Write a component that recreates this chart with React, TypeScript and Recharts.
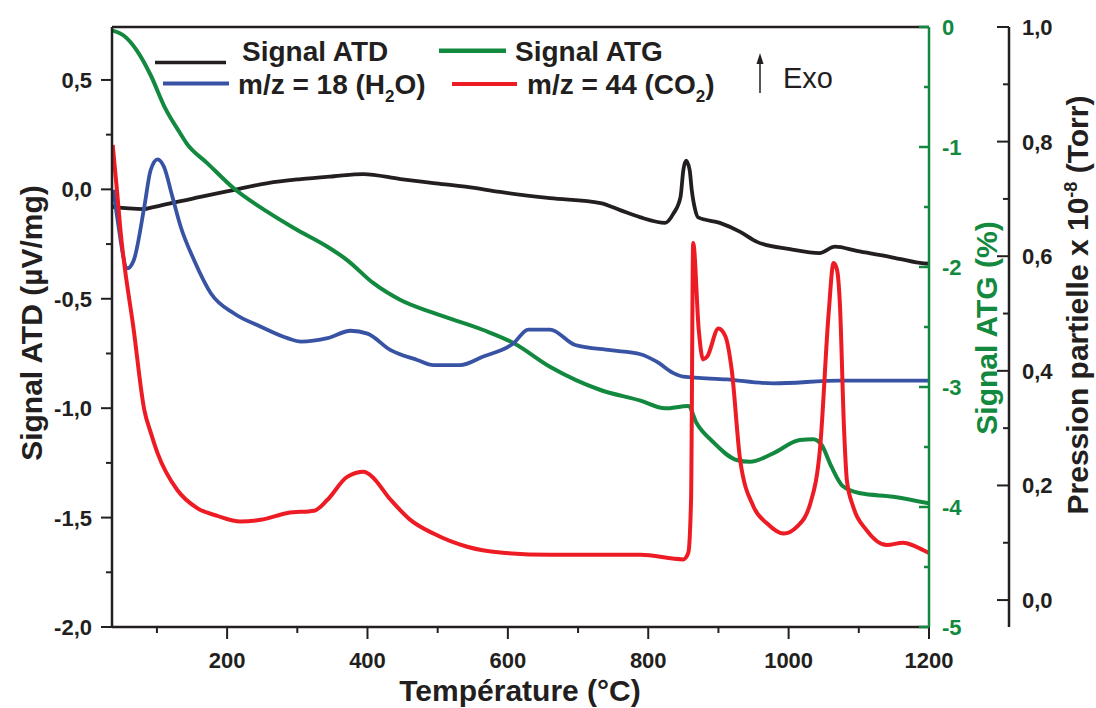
import { LineChart, Line, XAxis, YAxis } from 'recharts';

const FONT = '"Liberation Sans", Arial, Helvetica, sans-serif';
const INK = '#231f20';
const GREEN = '#12893e';
const BLUE = '#3953a4';
const RED = '#ed1c24';

// Signal ATD (µV/mg) – left axis
const atdTemp = [36, 38, 60, 81, 95, 162, 209, 258, 305, 352, 394, 447, 494, 542, 589, 660, 732, 760, 788, 824, 836, 846, 850, 854, 859, 862, 867, 871, 902, 931, 955, 1002, 1044, 1066, 1097, 1144, 1187, 1200];
const atdSignal = [-0.072, -0.08, -0.087, -0.09, -0.081, -0.034, -0.003, 0.029, 0.047, 0.06, 0.07, 0.047, 0.029, 0.011, -0.012, -0.04, -0.063, -0.095, -0.127, -0.153, -0.11, -0.034, 0.088, 0.131, 0.088, -0.003, -0.095, -0.128, -0.153, -0.194, -0.24, -0.273, -0.291, -0.262, -0.281, -0.308, -0.336, -0.34];

// Signal ATG (%) – green axis
const atgTemp = [37, 53, 71, 91, 111, 132, 142, 172, 209, 257, 295, 343, 371, 408, 447, 494, 565, 608, 660, 732, 789, 824, 857, 869, 892, 926, 945, 978, 1016, 1035, 1047, 1061, 1077, 1102, 1149, 1200];
const atgSignal = [-0.03, -0.073, -0.192, -0.4, -0.667, -0.875, -0.967, -1.136, -1.342, -1.539, -1.675, -1.831, -1.942, -2.133, -2.275, -2.383, -2.525, -2.633, -2.831, -3.025, -3.114, -3.178, -3.158, -3.303, -3.456, -3.608, -3.623, -3.553, -3.442, -3.436, -3.483, -3.664, -3.825, -3.886, -3.914, -3.97];

// m/z = 18 (H2O) – pressure axis
const h2oTemp = [38, 44, 58, 67, 82, 91, 101, 110, 122, 134, 153, 177, 210, 248, 286, 305, 343, 376, 400, 433, 471, 494, 532, 565, 608, 629, 660, 696, 746, 789, 812, 836, 850, 912, 978, 1073, 1200];
const h2oPressure = [0.716, 0.663, 0.579, 0.593, 0.686, 0.75, 0.769, 0.756, 0.704, 0.651, 0.593, 0.535, 0.5, 0.477, 0.457, 0.451, 0.457, 0.47, 0.465, 0.436, 0.419, 0.41, 0.41, 0.425, 0.448, 0.472, 0.472, 0.445, 0.436, 0.429, 0.416, 0.396, 0.39, 0.385, 0.378, 0.383, 0.383];

// m/z = 44 (CO2) – pressure axis
const co2Temp = [37, 43, 48, 67, 82, 91, 101, 129, 158, 186, 219, 248, 286, 324, 343, 371, 395, 404, 433, 461, 494, 542, 589, 660, 789, 850, 857, 861, 864, 872, 878, 884, 900, 910, 919, 931, 950, 969, 993, 1012, 1031, 1045, 1057, 1064, 1069, 1073, 1079, 1083, 1092, 1111, 1140, 1163, 1182, 1200];
const co2Pressure = [0.794, 0.716, 0.646, 0.471, 0.332, 0.293, 0.256, 0.192, 0.16, 0.147, 0.137, 0.14, 0.152, 0.156, 0.175, 0.215, 0.224, 0.218, 0.175, 0.14, 0.116, 0.093, 0.083, 0.079, 0.079, 0.071, 0.082, 0.175, 0.623, 0.471, 0.42, 0.425, 0.474, 0.46, 0.401, 0.244, 0.163, 0.134, 0.116, 0.128, 0.169, 0.268, 0.5, 0.588, 0.576, 0.518, 0.297, 0.209, 0.163, 0.122, 0.096, 0.1, 0.093, 0.082];

const xTicks = [100, 200, 300, 400, 500, 600, 700, 800, 900, 1000, 1100, 1200];
const topTicks = [500, 1000];
const atdTicks = [-2, -1.75, -1.5, -1.25, -1, -0.75, -0.5, -0.25, 0, 0.25, 0.5];
const atgTicks = [-5, -4.5, -4, -3.5, -3, -2.5, -2, -1.5, -1, -0.5, 0];
const pTicks = [0, 0.1, 0.2, 0.3, 0.4, 0.5, 0.6, 0.7, 0.8, 0.9, 1.0];

const zip = (ts: number[], vs: number[]) => ts.map((t, i) => ({ t, v: vs[i] }));

const comma = (v: number) => v.toFixed(1).replace('.', ',');
const isStep = (v: number, step: number) => Math.abs(v / step - Math.round(v / step)) < 1e-6;

const tickText = { fontFamily: FONT, fontWeight: 700, fontSize: 22 } as const;

function LeftTick({ x, y, payload }: any) {
  const major = isStep(payload.value, 0.5);
  return (
    <g>
      <line x1={x - (major ? 11 : 6)} x2={x} y1={y} y2={y} stroke={INK} strokeWidth={2} />
      {major && (
        <text x={x - 20} y={y} dy="0.36em" textAnchor="end" fill={INK} style={tickText}>
          {comma(payload.value)}
        </text>
      )}
    </g>
  );
}

function BottomTick({ x, y, payload }: any) {
  const major = isStep(payload.value, 200);
  return (
    <g>
      <line x1={x} x2={x} y1={y} y2={y + (major ? 12 : 6)} stroke={INK} strokeWidth={2} />
      {major && (
        <text x={x} y={y + 41} textAnchor="middle" fill={INK} style={tickText}>
          {payload.value}
        </text>
      )}
    </g>
  );
}

function TopTick({ x, y }: any) {
  return <line x1={x} x2={x} y1={y} y2={y + 8} stroke={INK} strokeWidth={2} />;
}

function AtgTick({ x, y, payload }: any) {
  const major = isStep(payload.value, 1);
  return (
    <g>
      <line x1={x - (major ? 10 : 5)} x2={x} y1={y} y2={y} stroke={GREEN} strokeWidth={2.5} />
      {major && (
        <text x={x + 13} y={y} dy="0.36em" textAnchor="start" fill={GREEN} style={tickText}>
          {payload.value}
        </text>
      )}
    </g>
  );
}

function PTick({ x, y, payload }: any) {
  const major = isStep(payload.value, 0.2);
  return (
    <g>
      <line x1={x - (major ? 12 : 6)} x2={x} y1={y} y2={y} stroke={INK} strokeWidth={2} />
      {major && (
        <text x={x + 13} y={y} dy="0.36em" textAnchor="start" fill={INK} style={tickText}>
          {comma(payload.value)}
        </text>
      )}
    </g>
  );
}

const legendText = { fontFamily: FONT, fontWeight: 700, fontSize: 28 } as const;
const titleText = { fontFamily: FONT, fontWeight: 700, fontSize: 30 } as const;

function Overlay() {
  return (
    <svg width={1096} height={708} style={{ position: 'absolute', left: 0, top: 0, pointerEvents: 'none' }}>
      {/* legend */}
      <line x1={155} x2={226} y1={62.5} y2={62.5} stroke={INK} strokeWidth={3.5} />
      <text x={242} y={60.7} fill={INK} style={legendText}>Signal ATD</text>
      <line x1={439} x2={506} y1={50.7} y2={50.7} stroke={GREEN} strokeWidth={4.5} />
      <text x={515} y={60.7} fill={INK} style={legendText}>Signal ATG</text>
      <line x1={163} x2={229} y1={83.5} y2={83.5} stroke={BLUE} strokeWidth={4} />
      <text x={238} y={94.3} fill={INK} style={legendText}>
        m/z = 18 (H<tspan dy={8} fontSize={17}>2</tspan><tspan dy={-8}>O)</tspan>
      </text>
      <line x1={452} x2={517} y1={84} y2={84} stroke={RED} strokeWidth={4} />
      <text x={527} y={94.3} fill={INK} style={legendText}>
        m/z = 44 (CO<tspan dy={8} fontSize={17}>2</tspan><tspan dy={-8}>)</tspan>
      </text>
      {/* exo arrow */}
      <line x1={760} x2={760} y1={93} y2={62} stroke={INK} strokeWidth={1.5} />
      <polygon points="760,53 756.5,64 763.5,64" fill={INK} />
      <text x={783} y={88.3} fill={INK} style={{ fontFamily: FONT, fontSize: 29 }}>Exo</text>

      {/* axis titles */}
      <text transform="translate(42,323) rotate(-90)" textAnchor="middle" fill={INK} style={titleText}>
        Signal ATD (µV/mg)
      </text>
      <text x={520} y={701} textAnchor="middle" fill={INK} style={titleText}>
        Température (°C)
      </text>
      <text transform="translate(997,328) rotate(-90)" textAnchor="middle" fill={GREEN} style={titleText}>
        Signal ATG (%)
      </text>
      <text transform="translate(1088,305) rotate(-90)" textAnchor="middle" fill={INK} style={titleText}>
        Pression partielle x 10<tspan dy={-11} fontSize={18}>-8</tspan><tspan dy={11}> (Torr)</tspan>
      </text>
    </svg>
  );
}

export default function App() {
  return (
    <div style={{ position: 'absolute', left: 0, top: 0, width: 1096, height: 708, background: '#fff' }}>
      <LineChart width={1096} height={708} margin={{ top: 0, right: 0, bottom: 0, left: 0 }}>
        <XAxis
          xAxisId="b"
          dataKey="t"
          type="number"
          domain={[36, 1200]}
          ticks={xTicks}
          interval={0}
          height={81}
          tickSize={0}
          tickMargin={0}
          tickLine={false}
          axisLine={{ stroke: INK, strokeWidth: 2.5 }}
          tick={(p: any) => <BottomTick {...p} />}
          allowDataOverflow
        />
        <XAxis
          xAxisId="top"
          orientation="top"
          type="number"
          domain={[36, 1200]}
          ticks={topTicks}
          interval={0}
          height={27}
          tickSize={0}
          tickMargin={0}
          tickLine={false}
          axisLine={{ stroke: INK, strokeWidth: 2.5 }}
          tick={(p: any) => <TopTick {...p} />}
          allowDataOverflow
        />
        <YAxis
          yAxisId="atd"
          type="number"
          domain={[-2, 0.742]}
          ticks={atdTicks}
          interval={0}
          width={112}
          tickSize={0}
          tickMargin={0}
          tickLine={false}
          axisLine={{ stroke: INK, strokeWidth: 2.5 }}
          tick={(p: any) => <LeftTick {...p} />}
          allowDataOverflow
        />
        <YAxis
          yAxisId="atg"
          orientation="right"
          type="number"
          domain={[-5, 0]}
          ticks={atgTicks}
          interval={0}
          width={80}
          tickSize={0}
          tickMargin={0}
          tickLine={false}
          axisLine={{ stroke: GREEN, strokeWidth: 2.5 }}
          tick={(p: any) => <AtgTick {...p} />}
          allowDataOverflow
        />
        <YAxis
          yAxisId="p"
          orientation="right"
          type="number"
          domain={[-0.047, 1.0]}
          ticks={pTicks}
          interval={0}
          width={87}
          tickSize={0}
          tickMargin={0}
          tickLine={false}
          axisLine={{ stroke: INK, strokeWidth: 2.5 }}
          tick={(p: any) => <PTick {...p} />}
          allowDataOverflow
        />
        <Line xAxisId="b" yAxisId="atd" data={zip(atdTemp, atdSignal)} dataKey="v" type="monotone" stroke={INK} strokeWidth={3.8} dot={false} isAnimationActive={false} />
        <Line xAxisId="b" yAxisId="atg" data={zip(atgTemp, atgSignal)} dataKey="v" type="monotone" stroke={GREEN} strokeWidth={4} dot={false} isAnimationActive={false} />
        <Line xAxisId="b" yAxisId="p" data={zip(h2oTemp, h2oPressure)} dataKey="v" type="monotone" stroke={BLUE} strokeWidth={3.8} dot={false} isAnimationActive={false} />
        <Line xAxisId="b" yAxisId="p" data={zip(co2Temp, co2Pressure)} dataKey="v" type="monotone" stroke={RED} strokeWidth={4} dot={false} isAnimationActive={false} />
      </LineChart>
      <Overlay />
    </div>
  );
}
